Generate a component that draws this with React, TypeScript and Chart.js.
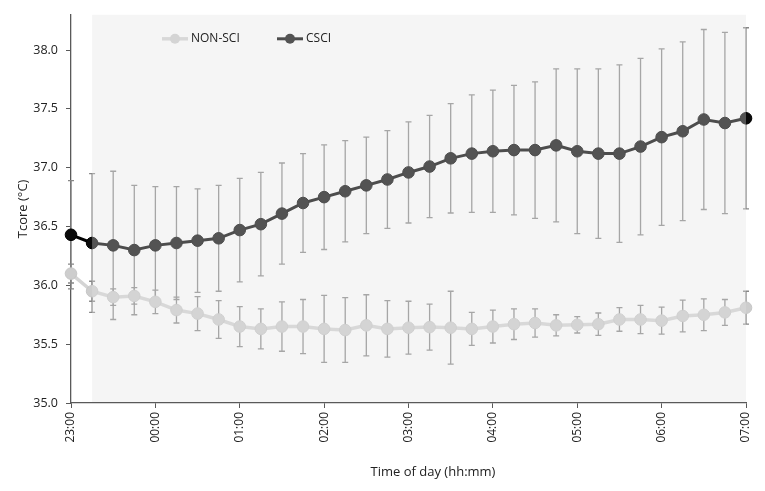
import { useEffect, useRef } from "react"
import { Chart, registerables } from "chart.js"

Chart.register(...registerables)

const times = [
  "23:00", "23:15", "23:30", "23:45", "00:00", "00:15", "00:30", "00:45",
  "01:00", "01:15", "01:30", "01:45", "02:00", "02:15", "02:30", "02:45",
  "03:00", "03:15", "03:30", "03:45", "04:00", "04:15", "04:30", "04:45",
  "05:00", "05:15", "05:30", "05:45", "06:00", "06:15", "06:30", "06:45",
  "07:00",
]

const nonSciMean = [
  36.1, 35.95, 35.9, 35.91, 35.86, 35.79, 35.76, 35.71, 35.65, 35.63, 35.65,
  35.65, 35.63, 35.62, 35.66, 35.63, 35.64, 35.645, 35.64, 35.63, 35.65, 35.67,
  35.68, 35.66, 35.665, 35.67, 35.71, 35.71, 35.7, 35.74, 35.75, 35.77, 35.81,
]
const nonSciSd = [
  0.08, 0.085, 0.07, 0.07, 0.1, 0.11, 0.145, 0.16, 0.17, 0.17, 0.21, 0.23, 0.285,
  0.275, 0.26, 0.24, 0.225, 0.195, 0.31, 0.14, 0.14, 0.13, 0.12, 0.09, 0.07,
  0.095, 0.1, 0.12, 0.115, 0.135, 0.135, 0.11, 0.14,
]

const csciMean = [
  36.43, 36.36, 36.34, 36.3, 36.34, 36.36, 36.38, 36.4, 36.47, 36.52, 36.61,
  36.7, 36.75, 36.8, 36.85, 36.9, 36.96, 37.01, 37.08, 37.12, 37.14, 37.15,
  37.15, 37.19, 37.14, 37.12, 37.12, 37.18, 37.26, 37.31, 37.41, 37.38, 37.42,
]
const csciSd = [
  0.46, 0.59, 0.63, 0.55, 0.5, 0.48, 0.44, 0.45, 0.44, 0.44, 0.43, 0.42, 0.445,
  0.43, 0.41, 0.415, 0.43, 0.435, 0.465, 0.5, 0.52, 0.55, 0.58, 0.65, 0.7, 0.72,
  0.755, 0.75, 0.75, 0.76, 0.765, 0.77, 0.77,
]

const FONT = "'Open Sans', sans-serif"

// error bars under the lines
const errorBars = {
  id: "errorBars",
  beforeDatasetsDraw(chart: any) {
    const { ctx, scales } = chart
    const x = scales.x
    const y = scales.y
    ctx.save()
    ctx.strokeStyle = "#878787"
    ctx.lineWidth = 1.3
    chart.data.datasets.forEach((ds: any) => {
      ds.data.forEach((p: any, j: number) => {
        const e = ds.errors[j]
        const px = x.getPixelForValue(p.x)
        const top = y.getPixelForValue(p.y + e)
        const bot = y.getPixelForValue(p.y - e)
        ctx.beginPath()
        ctx.moveTo(px, top)
        ctx.lineTo(px, bot)
        ctx.moveTo(px - 3, top)
        ctx.lineTo(px + 3, top)
        ctx.moveTo(px - 3, bot)
        ctx.lineTo(px + 3, bot)
        ctx.stroke()
      })
    })
    ctx.restore()
  },
}

// legend, translucent grey panel, x title
const decorations = {
  id: "decorations",
  afterDatasetsDraw(chart: any) {
    const { ctx, chartArea: a, scales } = chart
    const x = scales.x
    const entries = chart.data.datasets.map((ds: any, i: number) => ({
      ds,
      left: a.left + (i === 0 ? 91 : 206),
    }))
    const ly = a.top + 24

    ctx.save()
    entries.forEach(({ ds, left }: any) => {
      ctx.strokeStyle = ds.borderColor
      ctx.lineWidth = ds.borderWidth
      ctx.beginPath()
      ctx.moveTo(left, ly)
      ctx.lineTo(left + 26, ly)
      ctx.stroke()
      ctx.beginPath()
      ctx.arc(left + 13, ly, 5, 0, Math.PI * 2)
      ctx.fillStyle = ds.pointBackgroundColor
      ctx.fill()
    })

    const x0 = x.getPixelForValue(1)
    ctx.fillStyle = "rgba(226,226,226,0.34)"
    ctx.fillRect(x0, a.top, a.right - x0, a.bottom - a.top - 1)

    ctx.fillStyle = "#222"
    ctx.font = `12px ${FONT}`
    ctx.textBaseline = "middle"
    ctx.textAlign = "left"
    entries.forEach(({ ds, left }: any) => {
      ctx.fillText(ds.label, left + 29, ly)
    })

    ctx.font = `13px ${FONT}`
    ctx.textAlign = "center"
    ctx.fillText("Time of day (hh:mm)", (a.left + a.right) / 2 + 24.5, a.bottom + 69)
    ctx.restore()
  },
}

export default function App() {
  const chartRef = useRef<HTMLCanvasElement>(null)
  const chartInstance = useRef<Chart | null>(null)

  useEffect(() => {
    if (!chartRef.current) return
    if (chartInstance.current) chartInstance.current.destroy()
    const ctx = chartRef.current.getContext("2d")
    if (!ctx) return

    chartInstance.current = new Chart(ctx, {
      type: "line",
      data: {
        datasets: [
          {
            label: "NON-SCI",
            data: times.map((_, i) => ({ x: i, y: nonSciMean[i] })),
            errors: nonSciSd,
            borderColor: "#d4d4d4",
            borderWidth: 3.5,
            pointBackgroundColor: "#cdcdcd",
            pointBorderColor: "#c6c6c6",
            pointBorderWidth: 1,
            pointRadius: 5.8,
            clip: false,
          } as any,
          {
            label: "CSCI",
            data: times.map((_, i) => ({ x: i, y: csciMean[i] })),
            errors: csciSd,
            borderColor: "#000000",
            borderWidth: 3,
            pointBackgroundColor: "#0a0a0a",
            pointBorderColor: "#000000",
            pointBorderWidth: 1,
            pointRadius: 5.8,
            clip: false,
          } as any,
        ],
      },
      options: {
        animation: false,
        responsive: true,
        maintainAspectRatio: false,
        layout: { padding: { top: 5, right: 11, left: 0, bottom: 0 } },
        plugins: {
          legend: { display: false },
          tooltip: { enabled: false },
        },
        scales: {
          x: {
            type: "linear",
            min: 0,
            max: times.length - 1,
            grid: { drawOnChartArea: false, tickLength: 5, color: "#595959" },
            border: { color: "#595959", width: 1.3 },
            ticks: {
              stepSize: 4,
              minRotation: 90,
              maxRotation: 90,
              padding: 4,
              color: "#222",
              font: { family: FONT, size: 12 },
              callback: (v: any) => times[v as number] ?? "",
            },
            afterFit: (s: any) => {
              s.height = 80
              s.paddingLeft = 0
              s.paddingRight = 0
            },
          },
          y: {
            min: 35,
            max: 38.3,
            grid: { drawOnChartArea: false, tickLength: 5, color: "#595959" },
            border: { color: "#595959", width: 1.3 },
            ticks: {
              stepSize: 0.5,
              includeBounds: false,
              padding: 8,
              color: "#222",
              font: { family: FONT, size: 12.5 },
              callback: (v: any) => Number(v).toFixed(1),
            },
            title: {
              display: true,
              text: "Tcore (°C)",
              color: "#222",
              font: { family: FONT, size: 13 },
              padding: { top: 7, bottom: 0 },
            },
            afterFit: (s: any) => {
              s.width = 63
              s.paddingTop = 0
              s.paddingBottom = 0
            },
          },
        },
      },
      plugins: [errorBars, decorations],
    })

    return () => {
      if (chartInstance.current) {
        chartInstance.current.destroy()
        chartInstance.current = null
      }
    }
  }, [])

  return (
    <div style={{ width: 749, height: 475, position: "relative" }}>
      <canvas ref={chartRef} />
    </div>
  )
}
